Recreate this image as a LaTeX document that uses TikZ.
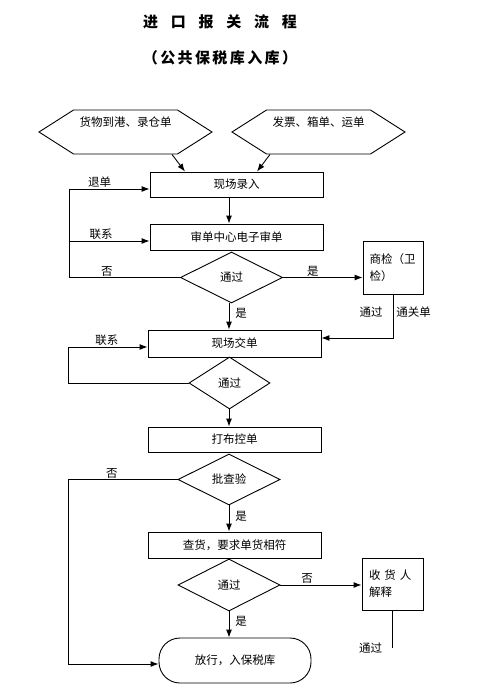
\documentclass[tikz,border=0pt]{standalone}
\usepackage{fontspec}
\setmainfont{Noto Sans CJK SC}
\usetikzlibrary{arrows.meta,shapes.geometric,shapes.symbols}
\begin{document}
\begin{tikzpicture}[x=1pt,y=-1pt,line width=0.9pt,
 font=\fontsize{11.5}{17}\selectfont,
 box/.style={draw,rectangle,minimum width=173pt,minimum height=26pt,inner sep=2pt},
 test/.style={draw,diamond,minimum width=102pt,minimum height=51pt,inner sep=0pt},
 hexa/.style={draw,signal,signal to=west and east,signal pointer angle=65,
  minimum width=173pt,minimum height=44pt,text height=8pt,text depth=20pt,inner sep=0pt},
 note/.style={draw,rectangle,minimum width=60pt,minimum height=53pt,text width=47pt,align=left},
 flow/.style={-{Latex[length=8pt,width=6pt]}},
 lab/.style={inner sep=1pt}]
 \useasboundingbox (0,0) rectangle (495,691);
 \coordinate (axis) at (229,0);
 % title
 \node (title) at (220,22) {\fontsize{15}{15}\selectfont\bfseries
  进\hspace{12.8pt}口\hspace{12.8pt}报\hspace{12.8pt}关\hspace{12.8pt}流\hspace{12.8pt}程};
 \node (subtitle) at (220,58) {\fontsize{15}{15}\selectfont\bfseries\addfontfeature{LetterSpace=16}（公共保税库入库）};
 % nodes
 \node[hexa] (goods) at (125.5,132) {货物到港、录仓单};
 \node[hexa] (docs) at (318.5,132) {发票、箱单、运单};
 \node[box,minimum height=25pt] (entry) at (236.5,184.5) {现场录入};
 \node[box] (audit) at (236.5,237) {审单中心电子审单};
 \node[test] (pass1) at (231.5,277.5) {通过};
 \node[note] (cis) at (393,267.5) {商检（卫\\检）};
 \node[box,minimum height=27pt] (hand) at (234.5,343.5) {现场交单};
 \node[test,minimum width=81pt,minimum height=52pt] (pass2) at (229.5,383) {通过};
 \node[box,minimum height=25pt] (ctrl) at (234.5,439.5) {打布控单};
 \node[test] (inspect) at (229,479.5) {批查验};
 \node[box] (check) at (234.5,545) {查货，要求单货相符};
 \node[test,minimum height=52pt] (pass3) at (229,585) {通过};
 \node[note,minimum width=61pt,minimum height=52pt] (explain) at (392.5,584) {收\hspace{4pt}货\hspace{4pt}人\\解释};
 \node[draw,rounded corners=21pt,minimum width=152pt,minimum height=45pt] (release) at (235,660.5) {放行，入保税库};
 % connectors
 \coordinate (left1) at (69,277.5);
 \coordinate (left2) at (68,383);
 \coordinate (left3) at (68,479.5);
 \coordinate (tail) at (392.5,648);
 \draw[flow] ([xshift=46.5pt]goods.south) -- ([xshift=-51.5pt]entry.north);
 \draw[flow] ([xshift=-48.5pt]docs.south) -- ([xshift=20.5pt]entry.north);
 \draw[flow] (entry.south -| axis) -- (audit.north -| axis);
 \draw[flow] (pass1.west) -- node[lab,above,pos=.66] (no1) {否} (left1)
  |- node[lab,above,pos=.69] (back1) {退单} ([yshift=-4.5pt]entry.west);
 \draw[flow] ([yshift=-4pt]left1 |- audit.west) -- node[lab,above,pos=.4] (link1) {联系} ([yshift=-4pt]audit.west);
 \draw[flow] (pass1.east) -- node[lab,above,pos=.375] (yes1) {是} (pass1.east -| cis.west);
 \draw[flow] (pass1.south -| axis) -- node[lab,right=5pt,pos=.37] (yes2) {是} (hand.north -| axis);
 \draw[flow] (cis.south) |- node[lab,left=9pt,pos=.2] (ok1) {通过} node[lab,right=2pt,pos=.2] (pass) {通关单}
  ([yshift=5.5pt]hand.east);
 \draw[flow] (pass2.west) -- (left2) |- node[lab,above,pos=.745] (link2) {联系} ([yshift=-3.5pt]hand.west);
 \draw[flow] (pass2.south -| axis) -- (ctrl.north -| axis);
 \draw[flow] (inspect.west) -- node[lab,above,pos=.6] (no2) {否} (left3) |- ([yshift=-3.5pt]release.west);
 \draw[flow] (inspect.south -| axis) -- node[lab,right=5pt,pos=.4] (yes3) {是} (check.north -| axis);
 \draw[flow] (pass3.east) -- node[lab,above,pos=.33] (no3) {否} (pass3.east -| explain.west);
 \draw[flow] (pass3.south -| axis) -- node[lab,right=5pt,pos=.37] (yes4) {是} (release.north -| axis);
 \draw (explain.south) -- (tail) node[lab,left=9pt] (ok2) {通过};
\end{tikzpicture}
\end{document}
